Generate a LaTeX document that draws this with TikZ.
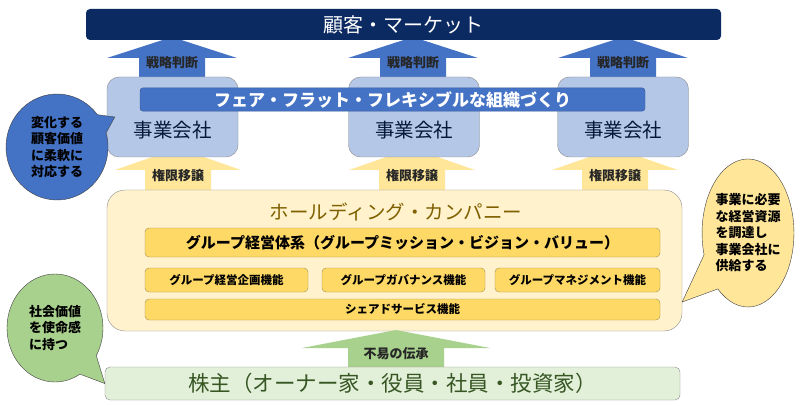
\documentclass[tikz,border=0pt]{standalone}
\usepackage{fontspec}
\setmainfont{Noto Sans CJK JP}
\usepackage{tikz}
\usetikzlibrary{shapes.callouts}
\definecolor{navy}{HTML}{0C2A62}
\definecolor{midblue}{HTML}{4472C4}
\definecolor{paleblue}{HTML}{B4C7E7}
\definecolor{softyellow}{HTML}{FFE699}
\definecolor{creamyellow}{HTML}{FFF2CC}
\definecolor{gold}{HTML}{FFD966}
\definecolor{olive}{HTML}{7F6000}
\definecolor{leafgreen}{HTML}{A9D18E}
\definecolor{palegreen}{HTML}{E2F0D9}
\definecolor{darkgreen}{HTML}{375623}
% block arrow: centre x, tip y, head base y, bottom y, head half width, shaft half width, colour
\newcommand{\fatarrow}[7]{%
  \fill[#7] (#1,#2) -- (#1+#5,#3) -- (#1+#6,#3) -- (#1+#6,#4)
    -- (#1-#6,#4) -- (#1-#6,#3) -- (#1-#5,#3) -- cycle;}

\begin{document}
\begin{tikzpicture}[
        x=1pt, y=-1pt,
        topbar/.style={fill=navy, rounded corners=4pt, minimum width=635pt, minimum height=31pt, text=white, font=\fontsize{20}{20}\selectfont},
        cobox/.style={draw=black!45, fill=paleblue, rounded corners=12pt, minimum width=131pt, minimum height=80pt},
        cotext/.style={font=\fontsize{19.5}{20}\selectfont, text=navy!60!black},
        banner/.style={draw=midblue!80!black, fill=midblue, rounded corners=3pt, minimum width=505pt, minimum height=23pt, text=white, font=\fontsize{17}{17}\selectfont\bfseries},
        arrowtext/.style={font=\fontsize{13}{13}\selectfont\bfseries, text=black!85},
        holdbox/.style={draw=black!45, fill=creamyellow, rounded corners=18pt, minimum width=575pt, minimum height=141pt},
        goldbar/.style={draw=olive!70, fill=gold, rounded corners=4pt, inner sep=0pt, font=\fontsize{11.5}{12}\selectfont\bfseries},
        sharebox/.style={draw=black!45, fill=palegreen, rounded corners=5pt, minimum width=575pt, minimum height=33pt, text=darkgreen, font=\fontsize{21.5}{22}\selectfont},
        bubble/.style={ellipse callout, draw=black!75, callout pointer arc=22, inner sep=0pt, align=left, font=\fontsize{13}{16.5}\selectfont\bfseries}
    ]
        \useasboundingbox[fill=white] (0,0) rectangle (800,406);

        % blue arrows to the market
        \fatarrow{172}{37}{58}{80}{65}{33}{midblue}
        \fatarrow{413}{37}{58}{80}{65}{33}{midblue}
        \fatarrow{623}{37}{58}{80}{65}{33}{midblue}
        \node[topbar] (market) at (403.5,24.5) {顧客・マーケット};

        % yellow arrows to the companies
        \fatarrow{178}{148}{170}{192}{63}{33}{softyellow}
        \fatarrow{412}{148}{170}{192}{63}{33}{softyellow}
        \fatarrow{615}{148}{170}{192}{63}{33}{softyellow}

        \node[cobox] (co1) at (172.5,117) {};
        \node[cobox] (co2) at (414,117) {};
        \node[cobox] (co3) at (623,117) {};
        \node[cotext] (co1txt) at (172.5,130) {事業会社};
        \node[cotext] (co2txt) at (414,130) {事業会社};
        \node[cotext] (co3txt) at (623,130) {事業会社};
        \node[banner] (flat) at (392.5,99.5) {フェア・フラット・フレキシブルな組織づくり};

        \node[arrowtext] (judge1) at (172,63) {戦略判断};
        \node[arrowtext] (judge2) at (413,63) {戦略判断};
        \node[arrowtext] (judge3) at (623,63) {戦略判断};
        \node[arrowtext] (deleg1) at (178,176) {権限移譲};
        \node[arrowtext] (deleg2) at (412,176) {権限移譲};
        \node[arrowtext] (deleg3) at (615,176) {権限移譲};

        % holding company
        \node[holdbox] (hold) at (394.5,260.5) {};
        \node[font=\fontsize{19.5}{20}\selectfont, text=olive] (holdtitle) at (396,212) {ホールディング・カンパニー};
        \node[goldbar, minimum width=515pt, minimum height=29pt, font=\fontsize{15}{15}\selectfont\bfseries] (system) at (402.5,242.5) {グループ経営体系（グループミッション・ビジョン・バリュー）};
        \node[goldbar, minimum width=163pt, minimum height=24pt] (plan) at (226.5,280) {グループ経営企画機能};
        \node[goldbar, minimum width=163pt, minimum height=24pt] (gov) at (403.5,280) {グループガバナンス機能};
        \node[goldbar, minimum width=165pt, minimum height=24pt] (mgmt) at (577.5,280) {グループマネジメント機能};
        \node[goldbar, minimum width=515pt, minimum height=21pt] (shared) at (402.5,309.5) {シェアドサービス機能};

        % shareholders
        \fatarrow{396}{330}{348}{368}{94}{48}{leafgreen}
        \node[arrowtext] (legacy) at (396,354) {不易の伝承};
        \node[sharebox] (share) at (392.5,383.5) {株主（オーナー家・役員・社員・投資家）};

        % speech bubbles
        \node[bubble, fill=midblue, minimum width=102pt, minimum height=106pt,
              callout absolute pointer={([xshift=8pt]co1.west)}] (adapt) at (57,147)
              {変化する\\顧客価値\\に柔軟に\\対応する};
        \node[bubble, fill=softyellow, minimum width=88pt, minimum height=148pt, callout pointer arc=32,
              callout absolute pointer={([yshift=-41.5pt]hold.east)}] (supply) at (748,233)
              {事業に必要\\な経営資源\\を調達し\\事業会社に\\供給する};
        \node[bubble, fill=leafgreen, minimum width=96pt, minimum height=108pt, callout pointer arc=28,
              callout absolute pointer={(share.west)}] (mission) at (55,328)
              {社会価値\\を使命感\\に持つ};
    \end{tikzpicture}
\end{document}
